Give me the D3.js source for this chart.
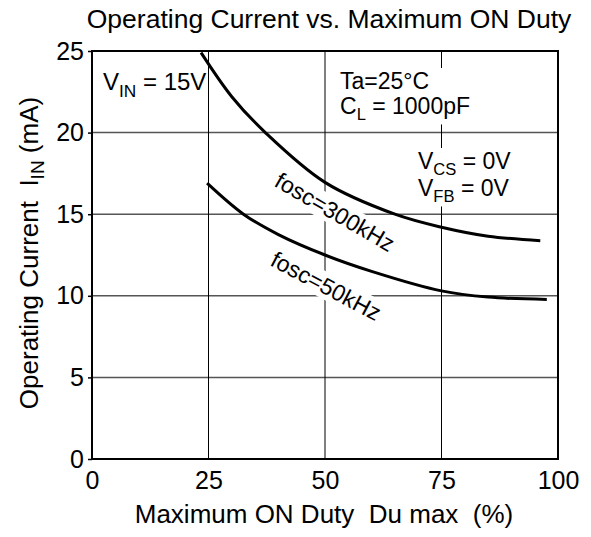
<!DOCTYPE html>
<html><head><meta charset="utf-8">
<script src="https://cdn.jsdelivr.net/npm/d3@7"></script>
<style>body{margin:0;background:#fff}svg{display:block;font-family:"Liberation Sans",Arial,sans-serif}</style>
</head><body>
<script>
const xTicks = [0, 25, 50, 75, 100];
const yTicks = [0, 5, 10, 15, 20, 25];
const duty300 = [23.4, 30, 37.2, 50, 65, 75, 85, 96.2];
const curr300 = [24.9, 22.2, 20.0, 16.95, 15.0, 14.2, 13.65, 13.38];
const duty50 = [24.7, 32.5, 40, 50, 60, 75, 85, 97.6];
const curr50 = [16.9, 15.0, 13.75, 12.5, 11.5, 10.3, 9.92, 9.78];

const W = 591, H = 537;
const m = {l: 92, r: 558, t: 51, b: 459};
const svg = d3.select("body").append("svg").attr("width", W).attr("height", H);
const x = d3.scaleLinear().domain([0, 100]).range([m.l, m.r]);
const y = d3.scaleLinear().domain([0, 25]).range([m.b, m.t]);

// grid
svg.append("g").selectAll("line").data(yTicks.slice(1, -1)).join("line")
  .attr("x1", m.l).attr("x2", m.r).attr("y1", d => y(d)).attr("y2", d => y(d))
  .attr("stroke", "#555").attr("stroke-width", 1.5);
svg.append("g").selectAll("line").data(xTicks.slice(1, -1)).join("line")
  .attr("y1", m.t).attr("y2", m.b).attr("x1", d => x(d)).attr("x2", d => x(d))
  .attr("stroke", "#000").attr("stroke-width", 1);

// axes
const yAxis = svg.append("g").attr("transform", `translate(${m.l},0)`)
  .call(d3.axisLeft(y).tickValues(yTicks).tickSize(4).tickPadding(4));
const xAxis = svg.append("g").attr("transform", `translate(0,${m.b})`)
  .call(d3.axisBottom(x).tickValues(xTicks).tickSize(0).tickPadding(12));
[yAxis, xAxis].forEach(a => {
  a.select(".domain").remove();
  a.selectAll("text").attr("font-size", 25).attr("fill", "#000").attr("font-family", "Liberation Sans, Arial, sans-serif");
  a.selectAll("line").attr("stroke", "#000").attr("stroke-width", 1.5);
});
xAxis.selectAll("text").attr("dy", "0.71em");

// labels with white backgrounds
function boxedText(g) {
  const bb = g.node().getBBox();
  g.insert("rect", ":first-child").attr("x", bb.x - 2).attr("y", bb.y).attr("width", bb.width + 4)
    .attr("height", bb.height).attr("fill", "#fff");
}

function subText(parent, xx, yy, main, sub, rest, fs) {
  const t = parent.append("text").attr("x", xx).attr("y", yy).attr("font-size", fs).attr("fill", "#000");
  t.append("tspan").text(main);
  t.append("tspan").attr("font-size", fs * 0.72).attr("dy", fs * 0.28).text(sub);
  t.append("tspan").attr("dy", -fs * 0.28).text(rest);
  return t;
}

const a1 = svg.append("g");
subText(a1, 103, 90, "V", "IN", " = 15V", 24);

const a2 = svg.append("g");
a2.append("text").attr("x", 340).attr("y", 89).attr("font-size", 23).text("Ta=25°C");
subText(a2, 340, 114, "C", "L", " = 1000pF", 23);
boxedText(a2);

const a3 = svg.append("g");
subText(a3, 418, 169, "V", "CS", " = 0V", 23);
subText(a3, 418, 196, "V", "FB", " = 0V", 23);
boxedText(a3);

const f1 = svg.append("g").attr("transform", "translate(335,212) rotate(30)");
f1.append("text").attr("text-anchor", "middle").attr("dy", "0.35em").attr("font-size", 23).text("fosc=300kHz");
boxedText(f1);
const f2 = svg.append("g").attr("transform", "translate(326,286) rotate(28)");
f2.append("text").attr("text-anchor", "middle").attr("dy", "0.35em").attr("font-size", 23).text("fosc=50kHz");
boxedText(f2);

// frame
svg.append("rect").attr("x", m.l).attr("y", m.t).attr("width", m.r - m.l).attr("height", m.b - m.t)
  .attr("fill", "none").attr("stroke", "#000").attr("stroke-width", 2);

// curves
const line = d3.line().x(d => x(d[0])).y(d => y(d[1])).curve(d3.curveCatmullRom.alpha(0.5));
[[duty300, curr300], [duty50, curr50]].forEach(([xs, ys]) => {
  svg.append("path").datum(xs.map((v, i) => [v, ys[i]])).attr("d", line)
    .attr("fill", "none").attr("stroke", "#000").attr("stroke-width", 3);
});

// titles
svg.append("text").attr("x", 329).attr("y", 28).attr("text-anchor", "middle").attr("font-size", 26.5)
  .text("Operating Current vs. Maximum ON Duty");
svg.append("text").attr("x", 324).attr("y", 523).attr("text-anchor", "middle").attr("font-size", 26)
  .attr("xml:space", "preserve").text("Maximum ON Duty  Du max  (%)");
const yt = svg.append("text").attr("transform", "translate(38,253) rotate(-90)").attr("text-anchor", "middle")
  .attr("font-size", 26).attr("xml:space", "preserve");
yt.append("tspan").text("Operating Current  I");
yt.append("tspan").attr("font-size", 19).attr("dy", 6).text("IN");
yt.append("tspan").attr("dy", -6).text(" (mA)");
</script>
</body></html>
